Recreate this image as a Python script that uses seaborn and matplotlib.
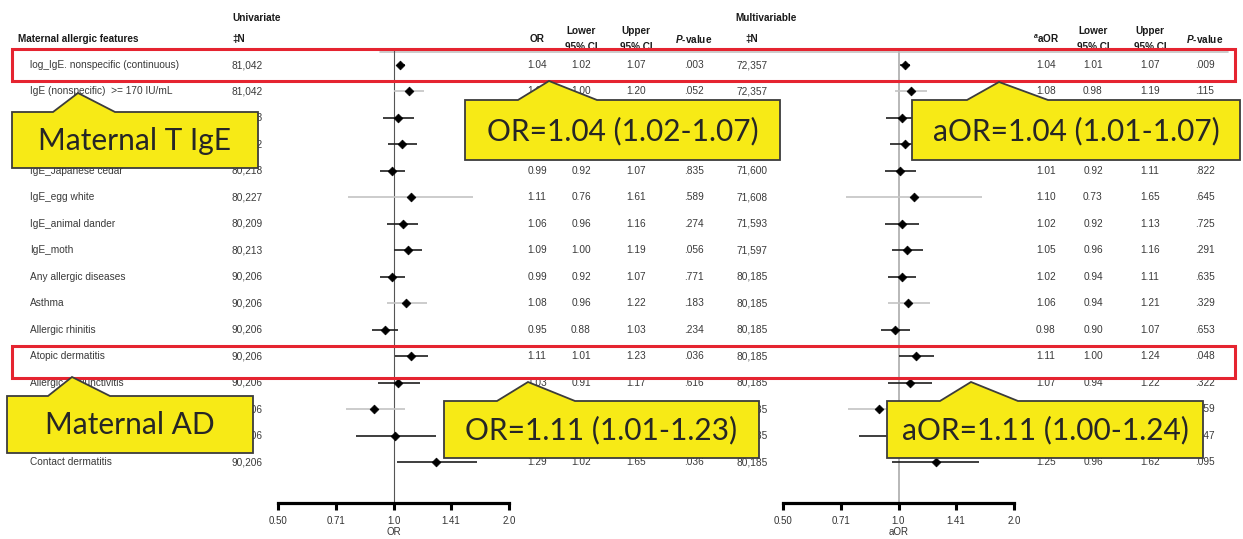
import matplotlib
matplotlib.use("Agg")
import matplotlib.pyplot as plt
import seaborn as sns
from matplotlib.patches import Polygon, Rectangle
from matplotlib.ticker import FixedLocator, FixedFormatter, NullLocator

sns.set_style("white")
plt.rcParams["font.family"] = ["Liberation Sans", "DejaVu Sans"]
plt.rcParams["mathtext.fontset"] = "custom"
plt.rcParams["mathtext.it"] = "Liberation Sans:italic:bold"
plt.rcParams["mathtext.rm"] = "Liberation Sans:bold"

# ---- data (rows hidden by callouts are estimated) ----
features = ["log_IgE. nonspecific (continuous)", "IgE (nonspecific)  >= 170 IU/mL",
            "IgE_house dust mite", "IgE_pollen", "IgE_Japanese cedar", "IgE_egg white",
            "IgE_animal dander", "IgE_moth", "Any allergic diseases", "Asthma",
            "Allergic rhinitis", "Atopic dermatitis", "Allergic conjunctivitis",
            "Food allergy", "Drug allergy", "Contact dermatitis"]
n_uni = ["81,042", "81,042", "80,223", "80,212", "80,218", "80,227", "80,209", "80,213",
         "90,206", "90,206", "90,206", "90,206", "90,206", "90,206", "90,206", "90,206"]
or_uni = [1.04, 1.10, 1.03, 1.05, 0.99, 1.11, 1.06, 1.09, 0.99, 1.08, 0.95, 1.11, 1.03, 0.89, 1.01, 1.29]
lo_uni = [1.02, 1.00, 0.94, 0.97, 0.92, 0.76, 0.96, 1.00, 0.92, 0.96, 0.88, 1.01, 0.91, 0.75, 0.80, 1.02]
hi_uni = [1.07, 1.20, 1.13, 1.15, 1.07, 1.61, 1.16, 1.19, 1.07, 1.22, 1.03, 1.23, 1.17, 1.07, 1.29, 1.65]
p_uni = [".003", ".052", ".512", ".268", ".835", ".589", ".274", ".056", ".771", ".183",
         ".234", ".036", ".616", ".212", ".913", ".036"]

n_multi = ["72,357", "72,357", "71,602", "71,596", "71,600", "71,608", "71,593", "71,597",
           "80,185", "80,185", "80,185", "80,185", "80,185", "80,185", "80,185", "80,185"]
or_multi = [1.04, 1.08, 1.02, 1.04, 1.01, 1.10, 1.02, 1.05, 1.02, 1.06, 0.98, 1.11, 1.07, 0.89, 1.01, 1.25]
lo_multi = [1.01, 0.98, 0.93, 0.95, 0.92, 0.73, 0.92, 0.96, 0.94, 0.94, 0.90, 1.00, 0.94, 0.74, 0.79, 0.96]
hi_multi = [1.07, 1.19, 1.12, 1.15, 1.11, 1.65, 1.13, 1.16, 1.11, 1.21, 1.07, 1.24, 1.22, 1.07, 1.29, 1.62]
p_multi = [".009", ".115", ".660", ".381", ".822", ".645", ".725", ".291", ".635", ".329",
           ".653", ".048", ".322", ".259", ".947", ".095"]

tick_vals = [0.5, 0.71, 1.0, 1.41, 2.0]
tick_labels = ["0.50", "0.71", "1.0", "1.41", "2.0"]

# ---- layout in pixels ----
W, H = 1243, 539
ROW0, STEP = 65, 26.47
fig = plt.figure(figsize=(W / 100, H / 100), dpi=100)


def px_axes(x0, y0, x1, y1, z):
    a = fig.add_axes([x0 / W, 1 - y1 / H, (x1 - x0) / W, (y1 - y0) / H], zorder=z)
    a.patch.set_alpha(0)
    return a


ax_txt = px_axes(0, 0, W, H, 0)
ax_txt.set_xlim(0, W)
ax_txt.set_ylim(H, 0)
ax_txt.axis("off")

txt = dict(fontsize=7.3, color="#3a3a3a", va="center")
hdr = dict(fontsize=7.2, color="#1a1a1a", va="center", fontweight="bold")

# headers
ax_txt.text(232, 18, "Univariate", ha="left", **hdr)
ax_txt.text(735, 18, "Multivariable", ha="left", **hdr)
ax_txt.text(18, 39, "Maternal allergic features", ha="left", **hdr)
ax_txt.text(232, 39, "\u2021N", ha="left", **hdr)
ax_txt.text(745, 39, "\u2021N", ha="left", **hdr)
ax_txt.text(537, 39, "OR", ha="center", **hdr)
ax_txt.text(1046, 39, r"$^{a}$aOR", ha="center", **hdr)
for cx in [581, 1093]:
    ax_txt.text(cx, 31, "Lower", ha="center", **hdr)
    ax_txt.text(cx, 47.5, "95% CI", ha="center", **hdr)
for cx in [636, 1150]:
    ax_txt.text(cx, 31, "Upper", ha="center", **hdr)
    ax_txt.text(cx, 47.5, "95% CI", ha="center", **hdr)
ax_txt.text(694, 39, r"$P$-value", ha="center", **hdr)
ax_txt.text(1205, 39, r"$P$-value", ha="center", **hdr)
ax_txt.plot([380, 1228], [51.5, 51.5], color="#c4c4c4", lw=1.2, zorder=3)

# table rows
for i, name in enumerate(features):
    y = ROW0 + i * STEP
    ax_txt.text(30, y, name, ha="left", **txt)
    ax_txt.text(232, y, n_uni[i], ha="left", **txt)
    ax_txt.text(537, y, f"{or_uni[i]:.2f}", ha="center", **txt)
    ax_txt.text(581, y, f"{lo_uni[i]:.2f}", ha="center", **txt)
    ax_txt.text(636, y, f"{hi_uni[i]:.2f}", ha="center", **txt)
    ax_txt.text(694, y, p_uni[i], ha="center", **txt)
    ax_txt.text(737, y, n_multi[i], ha="left", **txt)
    ax_txt.text(1046, y, f"{or_multi[i]:.2f}", ha="center", **txt)
    ax_txt.text(1093, y, f"{lo_multi[i]:.2f}", ha="center", **txt)
    ax_txt.text(1150, y, f"{hi_multi[i]:.2f}", ha="center", **txt)
    ax_txt.text(1205, y, p_multi[i], ha="center", **txt)


# forest panels
def forest(x0, x1, est, lo, hi, label, refcol, reflw):
    ax = px_axes(x0, 50, x1, 503, 2)
    rows = list(range(len(est)))
    top = (50 - ROW0) / STEP
    bot = (503 - ROW0) / STEP
    ax.set_xscale("log", base=2)
    ax.set_xlim(0.5, 2.0)
    ax.set_ylim(bot, top)
    ax.axvline(1.0, color=refcol, lw=reflw, zorder=1)
    for i in rows:
        col = "#c4c4c4" if i % 4 == 1 else "#1e1e1e"
        ax.hlines(i, lo[i], hi[i], colors=col, lw=1.2, zorder=2)
    sns.scatterplot(x=est, y=rows, marker="D", color="black", s=20,
                    edgecolor="black", linewidth=0.5, ax=ax, zorder=3, legend=False)
    for s in ["top", "left", "right"]:
        ax.spines[s].set_visible(False)
    ax.spines["bottom"].set_linewidth(2.3)
    ax.spines["bottom"].set_color("black")
    ax.set_yticks([])
    ax.xaxis.set_major_locator(FixedLocator(tick_vals))
    ax.xaxis.set_major_formatter(FixedFormatter(tick_labels))
    ax.xaxis.set_minor_locator(NullLocator())
    ax.tick_params(axis="x", direction="out", length=5, width=2.2, color="black",
                   labelsize=7, labelcolor="#333333", pad=4, bottom=True)
    ax.set_xlabel(label, fontsize=7, color="#333333", labelpad=1)
    ax.set_ylabel("")
    ax.grid(False)
    return ax


forest(278, 509, or_uni, lo_uni, hi_uni, "OR", "#555555", 0.8)
forest(783, 1014, or_multi, lo_multi, hi_multi, "aOR", "#b8b8b8", 1.4)

# overlay: red boxes and callouts
ax_top = px_axes(0, 0, W, H, 5)
ax_top.set_xlim(0, W)
ax_top.set_ylim(H, 0)
ax_top.axis("off")

for y0, y1 in [(49, 81), (346, 378)]:
    ax_top.add_patch(Rectangle((12, y0), 1223, y1 - y0, fill=False,
                               edgecolor="#e52430", lw=2.2))

yellow = "#f7ea16"


def callout(x0, y0, x1, y1, p0, tip, p1, text):
    pts = [(x0, y0), (p0, y0), tip, (p1, y0), (x1, y0), (x1, y1), (x0, y1)]
    ax_top.add_patch(Polygon(pts, closed=True, facecolor=yellow,
                             edgecolor="#3c3c3c", lw=1.3))
    ax_top.text((x0 + x1) / 2, (y0 + y1) / 2 + 1, text, ha="center", va="center",
                fontsize=21.5, color="#262626", family=["Lato", "DejaVu Sans"])


fmt = "{}={:.2f} ({:.2f}-{:.2f})"
i_ige, i_ad = 0, 11
callout(12, 112, 258, 168, 53, (78, 93), 115, "Maternal T IgE")
callout(465, 100, 780, 160, 518, (549, 81), 597,
        fmt.format("OR", or_uni[i_ige], lo_uni[i_ige], hi_uni[i_ige]))
callout(912, 100, 1240, 160, 967, (999, 82), 1048,
        fmt.format("aOR", or_multi[i_ige], lo_multi[i_ige], hi_multi[i_ige]))
callout(7, 396, 253, 453, 48, (72, 377), 110, "Maternal AD")
callout(444, 401, 759, 458, 497, (528, 382), 575,
        fmt.format("OR", or_uni[i_ad], lo_uni[i_ad], hi_uni[i_ad]))
callout(887, 401, 1203, 458, 940, (971, 382), 1018,
        fmt.format("aOR", or_multi[i_ad], lo_multi[i_ad], hi_multi[i_ad]))

fig.savefig("out.png", dpi=100)
